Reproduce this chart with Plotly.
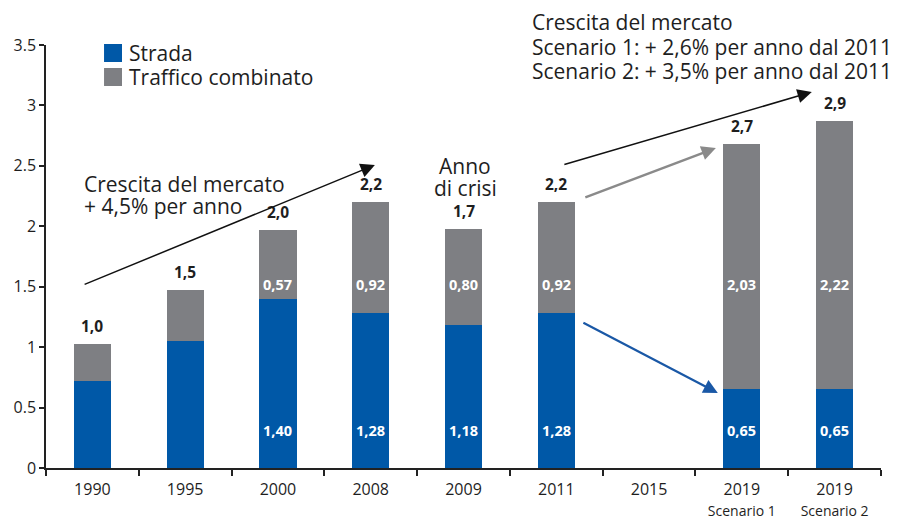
import plotly.graph_objects as go

categories = ["1990", "1995", "2000", "2008", "2009", "2011", "2015", "2019 S1", "2019 S2"]
tick_labels = ["1990", "1995", "2000", "2008", "2009", "2011", "2015",
               "2019<br><span style='font-size:14px'>Scenario 1</span>",
               "2019<br><span style='font-size:14px'>Scenario 2</span>"]
strada = [0.72, 1.05, 1.40, 1.28, 1.18, 1.28, None, 0.65, 0.65]
traffico = [0.31, 0.42, 0.57, 0.92, 0.80, 0.92, None, 2.03, 2.22]
strada_labels = ["", "", "1,40", "1,28", "1,18", "1,28", "", "0,65", "0,65"]
traffico_labels = ["", "", "0,57", "0,92", "0,80", "0,92", "", "2,03", "2,22"]
total_labels = ["1,0", "1,5", "2,0", "2,2", "1,7", "2,2", "", "2,7", "2,9"]
series_names = ["Strada", "Traffico combinato"]

BLUE = "#0058A7"
GRAY = "#7E7F83"
FONT = "Open Sans"
TXT = "#1e1e1e"
BIG = 21

fig = go.Figure()
fig.add_trace(go.Bar(x=categories, y=strada, name=series_names[0], marker_color=BLUE,
                     marker_line_width=0, showlegend=False))
fig.add_trace(go.Bar(x=categories, y=traffico, name=series_names[1], marker_color=GRAY,
                     marker_line_width=0, showlegend=False))

ann = []
for i, c in enumerate(categories):
    s, t = strada[i], traffico[i]
    if s is None:
        continue
    total = s + t
    if total_labels[i]:
        ann.append(dict(x=i, y=total, xref="x", yref="y", text="<b>%s</b>" % total_labels[i],
                        showarrow=False, yanchor="bottom", yshift=5,
                        font=dict(size=15.5, color=TXT, family=FONT)))
    if strada_labels[i]:
        ann.append(dict(x=i, y=0.31, xref="x", yref="y", text="<b>%s</b>" % strada_labels[i],
                        showarrow=False, font=dict(size=14.5, color="white", family=FONT)))
    if traffico_labels[i]:
        ann.append(dict(x=i, y=1.52, xref="x", yref="y", text="<b>%s</b>" % traffico_labels[i],
                        showarrow=False, font=dict(size=14.5, color="white", family=FONT)))


def arrow(x0, y0, x1, y1, color, width, size):
    return dict(x=x1, y=y1, ax=x0, ay=y0, xref="x", yref="y", axref="x", ayref="y",
                showarrow=True, arrowhead=2, arrowsize=size,
                arrowwidth=width, arrowcolor=color, text="")


ann.append(arrow(-0.10, 1.514, 3.045, 2.507, "#111111", 1.5, 1.9))
ann.append(arrow(5.071, 2.507, 7.754, 3.111, "#111111", 1.5, 1.9))
ann.append(arrow(5.297, 2.234, 6.72, 2.648, "#8a8a8a", 2.5, 1.15))
ann.append(arrow(5.276, 1.208, 6.741, 0.621, "#1a58a6", 2.2, 1.3))


def txt(x, y, s, anchor="left", size=BIG):
    return dict(x=x, y=y, xref="paper", yref="paper", xanchor=anchor, yanchor="middle",
                showarrow=False, text=s, font=dict(size=size, color=TXT, family=FONT))


ann.append(txt(0.0431, 0.6714, "Crescita del mercato"))
ann.append(txt(0.0431, 0.6194, "+ 4,5% per anno"))
ann.append(txt(0.5018, 0.7139, "Anno", "center"))
ann.append(txt(0.5018, 0.6619, "di crisi", "center"))
ann.append(txt(0.5796, 1.0544, "Crescita del mercato"))
ann.append(txt(0.5796, 0.9953, "Scenario 1: + 2,6% per anno dal 2011"))
ann.append(txt(0.5796, 0.9385, "Scenario 2: + 3,5% per anno dal 2011"))

# legend (drawn)
ann.append(txt(0.0970, 0.9811, series_names[0]))
ann.append(txt(0.0970, 0.9243, series_names[1]))
shapes = [
    dict(type="rect", xref="paper", yref="paper", x0=0.0695, x1=0.0910, y0=0.9598, y1=1.0024,
         fillcolor=BLUE, line_width=0),
    dict(type="rect", xref="paper", yref="paper", x0=0.0695, x1=0.0910, y0=0.9031, y1=0.9456,
         fillcolor=GRAY, line_width=0),
]

fig.update_layout(
    width=889, height=512,
    margin=dict(l=38, r=16, t=37, b=52, autoexpand=False),
    paper_bgcolor="white", plot_bgcolor="white",
    barmode="stack", bargap=0.6,
    font=dict(family=FONT, color=TXT),
    showlegend=False,
    annotations=ann,
    shapes=shapes,
)
fig.update_xaxes(type="category", categoryorder="array", categoryarray=categories,
                 tickvals=categories, ticktext=tick_labels, range=[-0.5, 8.5],
                 tickson="boundaries", ticks="outside", ticklen=6, tickwidth=1.5,
                 tickcolor="#222", showline=True, linecolor="#222", linewidth=1.5,
                 showgrid=False, automargin=False, ticklabelstandoff=6,
                 tickfont=dict(size=16, color=TXT, family=FONT))
fig.update_yaxes(range=[0, 3.5], dtick=0.5, ticks="outside", ticklen=5, tickwidth=1.5,
                 tickcolor="#222", showline=True, linecolor="#222", linewidth=1.5,
                 showgrid=False, zeroline=False, automargin=False,
                 tickfont=dict(size=16, color=TXT, family=FONT))

fig.write_html("out.html")
